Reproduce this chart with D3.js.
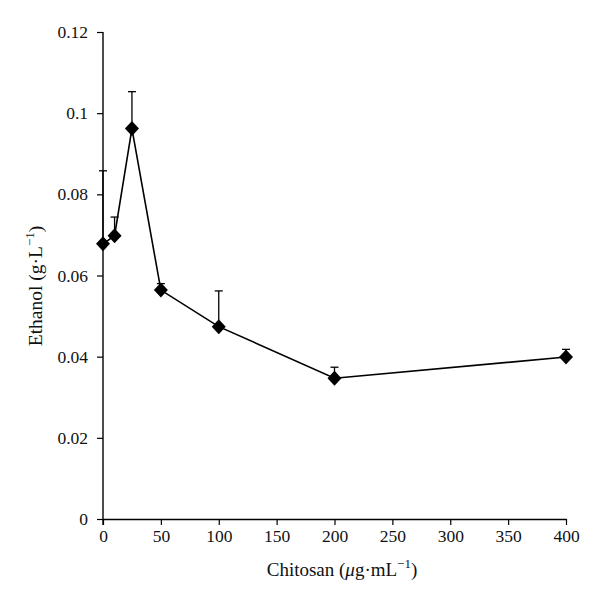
<!DOCTYPE html>
<html><head><meta charset="utf-8">
<script src="https://cdn.jsdelivr.net/npm/d3@7"></script>
<style>body{margin:0;background:#fff}svg{display:block}</style>
</head><body>
<script>
const chitosan = [0, 10, 25, 50, 100, 200, 400];
const ethanol = [0.0678, 0.0698, 0.0962, 0.0564, 0.0474, 0.0347, 0.0399];
const errUpper = [0.0858, 0.0744, 0.1053, 0.0580, 0.0562, 0.0374, 0.0418];
const xTicks = [0, 50, 100, 150, 200, 250, 300, 350, 400];
const yTicks = [0, 0.02, 0.04, 0.06, 0.08, 0.1, 0.12];

const W = 600, H = 606;
const svg = d3.select("body").append("svg").attr("width", W).attr("height", H);
const x = d3.scaleLinear().domain([0, 400]).range([103, 566]);
const y = d3.scaleLinear().domain([0, 0.12]).range([519, 32]);
const font = "'Liberation Serif', 'DejaVu Serif', serif";

const xAxis = svg.append("g").attr("transform", `translate(0,${y(0)})`)
  .call(d3.axisBottom(x).tickValues(xTicks).tickSize(6).tickPadding(5).tickSizeOuter(0).tickFormat(d3.format("d")));
const yAxis = svg.append("g").attr("transform", `translate(${x(0)},0)`)
  .call(d3.axisLeft(y).tickValues(yTicks).tickSize(6).tickPadding(9).tickSizeOuter(0).tickFormat(d => d === 0 ? "0" : String(+d.toFixed(2))));
[xAxis, yAxis].forEach(g => {
  g.selectAll("path.domain").attr("stroke", "#000").attr("stroke-width", 1.4);
  g.selectAll(".tick line").attr("stroke", "#000").attr("stroke-width", 1.2);
  g.selectAll("text").attr("font-family", font).attr("font-size", 17.5).attr("fill", "#111");
});
yAxis.select("path.domain").attr("d", `M0,${y(0.12)}V${y(0) + 6}`);

// error bars (upper only)
const eb = svg.append("g").attr("stroke", "#000").attr("stroke-width", 1.3);
chitosan.forEach((c, i) => {
  eb.append("line").attr("x1", x(c)).attr("x2", x(c)).attr("y1", y(ethanol[i])).attr("y2", y(errUpper[i]));
  eb.append("line").attr("x1", x(c) - 4).attr("x2", x(c) + 4).attr("y1", y(errUpper[i])).attr("y2", y(errUpper[i]));
});

// line
const line = d3.line().x((d, i) => x(chitosan[i])).y(d => y(d));
svg.append("path").datum(ethanol).attr("d", line).attr("fill", "none").attr("stroke", "#000").attr("stroke-width", 1.6);

// diamonds
svg.append("g").selectAll("path").data(ethanol).join("path")
  .attr("transform", (d, i) => `translate(${x(chitosan[i])},${y(d)})`)
  .attr("d", "M0,-7.5L7,0L0,7.5L-7,0Z").attr("fill", "#000");

// axis titles
const xt = svg.append("text").attr("x", 342).attr("y", 576).attr("text-anchor", "middle")
  .attr("font-family", font).attr("font-size", 19).attr("fill", "#111");
xt.append("tspan").text("Chitosan (");
xt.append("tspan").attr("font-style", "italic").text("μ");
xt.append("tspan").text("g·mL");
xt.append("tspan").attr("dy", -8).attr("font-size", 13).text("−1");
xt.append("tspan").attr("dy", 8).text(")");

const yt = svg.append("text").attr("transform", "translate(42,286) rotate(-90)").attr("text-anchor", "middle")
  .attr("font-family", font).attr("font-size", 19.5).attr("fill", "#111");
yt.append("tspan").text("Ethanol (g·L");
yt.append("tspan").attr("dy", -8).attr("font-size", 13).text("−1");
yt.append("tspan").attr("dy", 8).text(")");
</script>
</body></html>
